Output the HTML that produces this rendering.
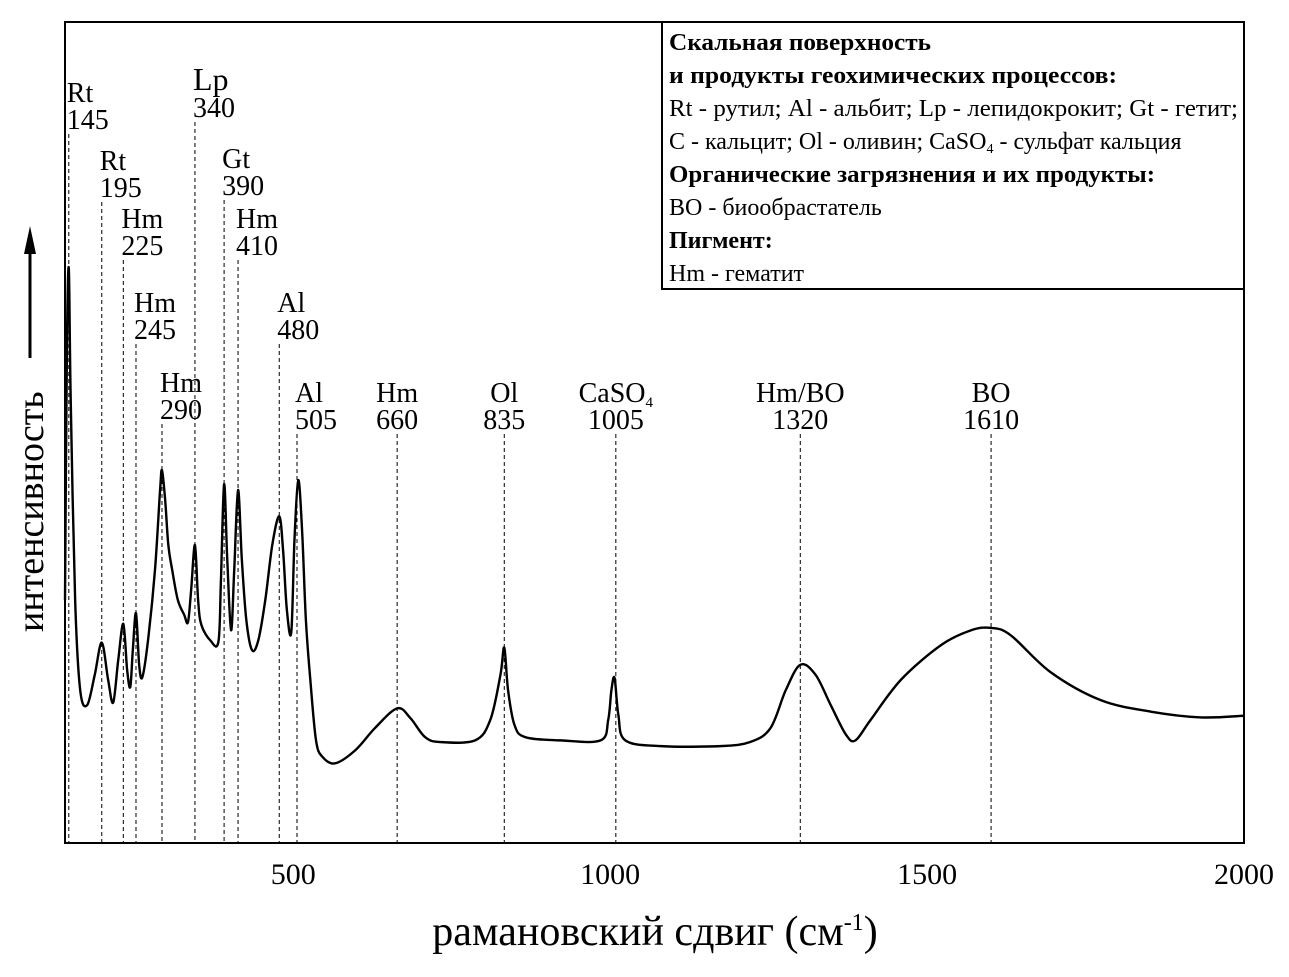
<!DOCTYPE html>
<html><head><meta charset="utf-8"><style>
body{margin:0;background:#fff}
svg text{font-family:"Liberation Serif",serif;fill:#000}
</style></head><body>
<svg id="chart" width="1289" height="972" viewBox="0 0 1289 972" xmlns="http://www.w3.org/2000/svg">
<rect x="65" y="22" width="1179" height="821" fill="none" stroke="#000" stroke-width="2"/>
<g id="ticks"></g>
<g id="markers"></g>
<path id="spec" fill="none" stroke="#000" stroke-width="2.4"/>
<g>
<rect x="662" y="22" width="582" height="267" fill="#fff" stroke="#000" stroke-width="2"/>
<text x="669" y="50" font-size="24" font-weight="bold" textLength="262" lengthAdjust="spacingAndGlyphs">Скальная поверхность</text>
<text x="669" y="83" font-size="24" font-weight="bold" textLength="448" lengthAdjust="spacingAndGlyphs">и продукты геохимических процессов:</text>
<text x="669" y="116" font-size="24" textLength="569" lengthAdjust="spacingAndGlyphs">Rt - рутил; Al - альбит; Lp - лепидокрокит; Gt - гетит;</text>
<text x="669" y="149" font-size="24">C - кальцит; Ol - оливин; CaSO<tspan font-size="14" dy="4">4</tspan><tspan dy="-4"> - сульфат кальция</tspan></text>
<text x="669" y="182" font-size="24" font-weight="bold" textLength="486" lengthAdjust="spacingAndGlyphs">Органические загрязнения и их продукты:</text>
<text x="669" y="215" font-size="24">BO - биообрастатель</text>
<text x="669" y="248" font-size="24" font-weight="bold">Пигмент:</text>
<text x="669" y="281" font-size="24">Hm - гематит</text>
</g>
<g>
<text x="0" y="0" font-size="38" transform="translate(43,632) rotate(-90)">интенсивность</text>
<line x1="30" y1="358" x2="30" y2="250" stroke="#000" stroke-width="3"/>
<polygon points="30,226 24,254 36,254" fill="#000"/>
</g>
<text x="655" y="945" font-size="42" text-anchor="middle">рамановский сдвиг (см<tspan font-size="24" dy="-15">-1</tspan><tspan dy="15">)</tspan></text>
</svg>
<script>
const wavenumbers=[140,143,146,149,156,164,175,187,198,208,216,224,232,238,243,247,252,257,262,271,282,290,293,298,303,309,318,328,334,339,345,350,355,369,382,386,391,396,402,407,413,419,426,435,445,456,467,478,484,490,497,502,508,514,520,527,536,546,566,598,629,664,685,708,732,787,811,827,833,839,849,866,922,985,997,1002,1007,1013,1024,1080,1174,1221,1253,1277,1300,1324,1348,1372,1387,1411,1459,1522,1569,1601,1632,1695,1774,1853,1932,2000];
const intensities=[29.6,60,70,54,29.6,18.6,16.8,20.5,24.4,19.9,17.1,22.3,26.7,21.1,19.0,23.5,28.0,21.7,20.2,24.7,33.3,43.0,45.4,41.8,36.3,33.3,29.6,27.8,26.9,30.8,36.3,29.6,26.6,24.7,24.5,32,43.7,34.5,25.9,33.3,43.0,34.5,27.2,23.5,24.7,29.6,36.3,39.8,35.7,28.4,25.7,36.9,44.2,38.1,27.2,19.9,12.5,10.5,9.7,11.3,14,16.4,15.2,12.9,12.3,12.5,15,20.5,23.8,18.6,14.4,12.9,12.5,12.5,15,18.6,20.1,15.6,12.5,11.8,11.8,12.3,14,18.6,21.7,20.5,16.8,13.2,12.5,15,19.9,24.1,25.9,26.2,25.3,20.8,17.4,16,15.3,15.5];
const tickValues=[500,1000,1500,2000];
const peakPositions=[146,198,232,252,293,345,391,413,478,506,664,833,1009,1300,1601];
const peakNames=["Rt","Rt","Hm","Hm","Hm","Lp","Gt","Hm","Al","Al","Hm","Ol","CaSO","Hm/BO","BO"];
const peakLabels=["145","195","225","245","290","340","390","410","480","505","660","835","1005","1320","1610"];
const peakLabelTops=[82,150,208,292,372,70,148,208,292,382,382,382,382,382,382];
const NS="http://www.w3.org/2000/svg";
const X=v=>65+(v-140)*(1179/1860);
const Y=v=>843-v*8.21;
function mk(t,a,p){const e=document.createElementNS(NS,t);for(const k in a)e.setAttribute(k,a[k]);p.appendChild(e);return e;}
const tg=document.getElementById('ticks');
tickValues.forEach(v=>{
 const t=mk('text',{x:X(v),y:884,'font-size':30,'text-anchor':'middle'},tg);
 
 
 t.textContent=v;
});
const mg=document.getElementById('markers');
peakPositions.forEach((p,i)=>{
 const x=X(p),top=peakLabelTops[i];
 const l=mk('line',{x1:x,x2:x,y1:top+52,y2:843,stroke:'#000','stroke-width':1,'stroke-dasharray':'4,3'},mg);
 
 
 const lx=i<10?x-2:x;const anc=i<10?'start':'middle';
 const n=mk('text',{x:lx,y:top+20,'font-size':i==5?32:28,'text-anchor':anc},mg);
 
 
 n.textContent=peakNames[i];
 if(peakNames[i]==='CaSO'){const s=mk('tspan',{'font-size':15,dy:5},n);s.textContent='4';}
 const v=mk('text',{x:lx,y:top+47,'font-size':28,'text-anchor':anc},mg);
 
 
 v.textContent=peakLabels[i];
});
const pts=wavenumbers.map((w,i)=>[X(w),Y(intensities[i])]);
let d='M'+pts[0][0]+','+pts[0][1];
for(let i=0;i<pts.length-1;i++){
 const p0=pts[Math.max(0,i-1)],p1=pts[i],p2=pts[i+1],p3=pts[Math.min(pts.length-1,i+2)];
 const c1=[p1[0]+(p2[0]-p0[0])/6,p1[1]+(p2[1]-p0[1])/6];
 const c2=[p2[0]-(p3[0]-p1[0])/6,p2[1]-(p3[1]-p1[1])/6];
 d+=` C${c1[0]},${c1[1]} ${c2[0]},${c2[1]} ${p2[0]},${p2[1]}`;
}
document.getElementById('spec').setAttribute('d',d);
</script>
</body></html>
